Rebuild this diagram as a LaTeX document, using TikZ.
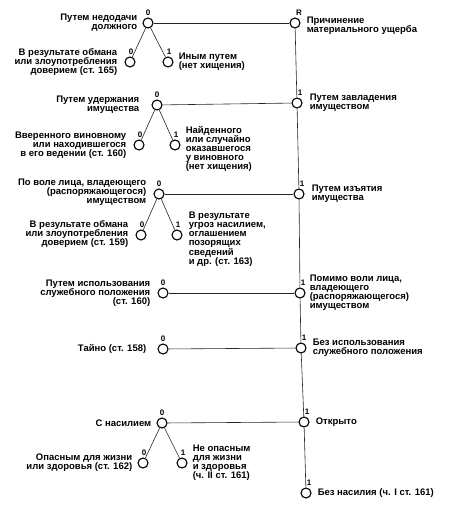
\documentclass[tikz,border=0pt]{standalone}
\usepackage{fontspec}
\setmainfont{Liberation Sans}
\begin{document}
\begin{tikzpicture}[x=1pt,y=-1pt,
  dot/.style={circle, draw, line width=1.1pt, fill=white, minimum size=10pt, inner sep=0pt},
  num/.style={font=\bfseries\fontsize{8}{8}\selectfont, inner sep=0pt},
  lt/.style={anchor=east, align=right, inner sep=0pt, font=\bfseries\fontsize{9.5}{9}\selectfont},
  rt/.style={anchor=west, align=left, inner sep=0pt, font=\bfseries\fontsize{9.5}{9}\selectfont},
  ln/.style={line width=0.6pt, black!85},
  label distance=1.5pt]
\useasboundingbox (0,0) rectangle (453,513);
% right column
\node[dot, label={[num,xshift=4pt]above:R}] (R) at (295,23) {};
\node[dot, label={[num,xshift=3pt]above:1}] (r1) at (297,103) {};
\node[dot, label={[num,xshift=3pt]above:1}] (r2) at (299,194) {};
\node[dot, label={[num,xshift=3pt]above:1}] (r3) at (300,293) {};
\node[dot, label={[num,xshift=3pt]above:1}] (r4) at (301,348) {};
\node[dot, label={[num,xshift=3pt]above:1}] (r5) at (304,422) {};
\node[dot, label={[num,xshift=3pt]above:1}] (r6) at (306,493) {};
% left nodes
\node[dot, label={[num]above:0}] (a) at (148,23) {};
\node[dot, label={[num,xshift=1pt]above:0}] (a0) at (130,62) {};
\node[dot, label={[num,xshift=1pt]above:1}] (a1) at (168,62) {};
\node[dot, label={[num]above:0}] (b) at (157,105) {};
\node[dot, label={[num,xshift=1pt]above:0}] (b0) at (139,145) {};
\node[dot, label={[num,xshift=1pt]above:1}] (b1) at (175,145) {};
\node[dot, label={[num]above:0}] (c) at (159,194) {};
\node[dot, label={[num,xshift=1pt]above:0}] (c0) at (141,235) {};
\node[dot, label={[num,xshift=1pt]above:1}] (c1) at (177,235) {};
\node[dot, label={[num]above:0}] (d) at (163,293) {};
\node[dot, label={[num]above:0}] (e) at (163,349) {};
\node[dot, label={[num]above:0}] (f) at (162,423) {};
\node[dot, label={[num,xshift=1pt]above:0}] (f0) at (143,463) {};
\node[dot, label={[num,xshift=1pt]above:1}] (f1) at (182,463) {};
% connectors
\draw[ln] (R) -- (r1) -- (r2) -- (r3) -- (r4) -- (r5) -- (r6);
\draw[ln] (a) -- (R);
\draw[ln] (b) -- (r1);
\draw[ln] (c) -- (r2);
\draw[ln] (d) -- (r3);
\draw[ln] (e) -- (r4);
\draw[ln] (f) -- (r5);
\draw[ln] (a0) -- (a) -- (a1);
\draw[ln] (b0) -- (b) -- (b1);
\draw[ln] (c0) -- (c) -- (c1);
\draw[ln] (f0) -- (f) -- (f1);
% labels right column
\node[rt] (tR) at ([xshift=6pt,yshift=-3pt]R.east) {Причинение\\материального ущерба};
\node[rt] (tr1) at ([xshift=7pt]r1.east) {Путем завладения\\имуществом};
\node[rt] (tr2) at ([xshift=7pt]r2.east) {Путем изъятия\\имущества};
\node[rt] (tr3) at ([xshift=4pt]r3.east) {Помимо воли лица,\\владеющего\\(распоряжающегося)\\имуществом};
\node[rt] (tr4) at ([xshift=6pt]r4.east) {Без использования\\служебного положения};
\node[rt] (tr5) at ([xshift=6pt]r5.east) {Открыто};
\node[rt] (tr6) at ([xshift=6pt]r6.east) {Без насилия (ч. I ст. 161)};
% labels left
\node[lt] (ta) at ([xshift=-5pt]a.west) {Путем недодачи\\должного};
\node[lt] (ta0) at ([xshift=-7pt]a0.west) {В результате обмана\\или злоупотребления\\доверием (ст. 165)};
\node[rt] (ta1) at ([xshift=5pt]a1.east) {Иным путем\\(нет хищения)};
\node[lt] (tb) at ([xshift=-12pt]b.west) {Путем удержания\\имущества};
\node[lt] (tb0) at ([xshift=-7pt]b0.west) {Вверенного виновному\\или находившегося\\в его ведении (ст. 160)};
\node[rt] (tb1) at ([xshift=5pt,yshift=-4pt]b1.east) {Найденного\\или случайно\\оказавшегося\\у виновного\\(нет хищения)};
\node[lt] (tc) at ([xshift=-7pt,yshift=2pt]c.west) {По воле лица, владеющего\\(распоряжающегося)\\имуществом};
\node[lt] (tc0) at ([xshift=-7pt,yshift=1pt]c0.west) {В результате обмана\\или злоупотребления\\доверием (ст. 159)};
\node[rt] (tc1) at ([xshift=6pt,yshift=-4pt]c1.east) {В результате\\угроз насилием,\\оглашением\\позорящих\\сведений\\и др. (ст. 163)};
\node[lt] (td) at ([xshift=-7pt]d.west) {Путем использования\\служебного положения\\(ст. 160)};
\node[lt] (te) at ([xshift=-11pt]e.west) {Тайно (ст. 158)};
\node[lt] (tf) at ([xshift=-5pt]f.west) {С насилием};
\node[lt] (tf0) at ([xshift=-5pt]f0.west) {Опасным для жизни\\или здоровья (ст. 162)};
\node[rt] (tf1) at ([xshift=5pt]f1.east) {Не опасным\\для жизни\\и здоровья\\(ч. II ст. 161)};
\end{tikzpicture}
\end{document}
